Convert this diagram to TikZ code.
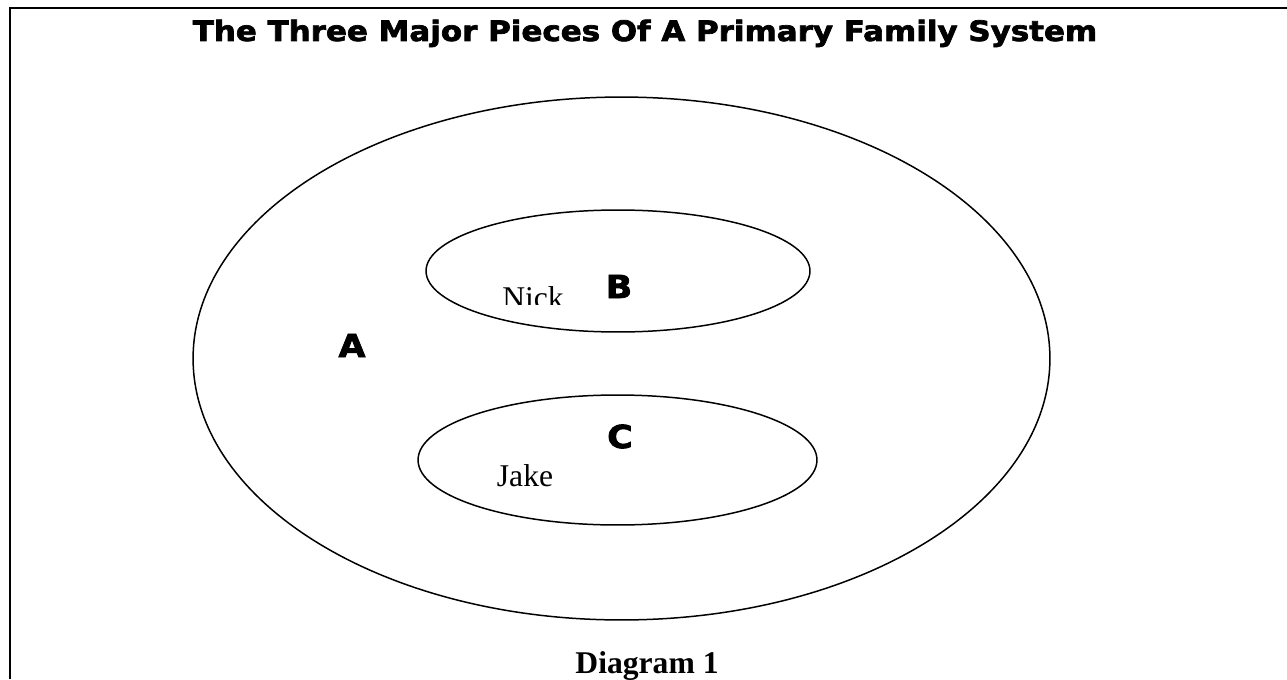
\documentclass[tikz,border=0pt]{standalone}
\usepackage{fontspec}
\setmainfont{Liberation Serif}
\newfontfamily\heavyfont{DejaVu Sans Bold}[FakeBold=2.5, FakeStretch=1.1]
\usepackage{tikz}
\usetikzlibrary{shapes}

\begin{document}
\begin{tikzpicture}[x=0.02cm, y=-0.02cm]%%family

                \tikzstyle{ring}  = [ellipse, draw, line width=0.85pt, inner sep=0pt]
                \tikzstyle{letter} = [font=\heavyfont\fontsize{18}{18}\selectfont, inner sep=0pt, anchor=base]
                \tikzstyle{person} = [font=\fontsize{18}{18}\selectfont, inner sep=0pt, anchor=base]
                \useasboundingbox (0,0) rectangle (1287,679);
                \draw [line width=1.4pt] (10,679) -- (10,8) -- (1287,8);
                \node [font=\heavyfont\fontsize{16}{16}\selectfont, inner sep=0pt, anchor=base](title) at (645,41) {The Three Major Pieces Of A Primary Family System};
                \node [ring, minimum width=17.14cm, minimum height=10.46cm](outer) at (621.5,358.5) {};
                \node [ring, minimum width=7.68cm, minimum height=2.44cm](upper) at (618,271) {};
                \node [ring, minimum width=7.98cm, minimum height=2.6cm](lower) at (617.5,460) {};
                \node [letter](A) at (352,357) {A};
                \node [letter](B) at (619,298) {B};
                \node [letter](C) at (620,448) {C};
                \begin{scope}
                        \clip (450,250) rectangle (700,304);
                        \node [person](nick) at (533,308) {Nick};
                \end{scope}
                \node [person](jake) at (525,486) {Jake};
                \node [person, font=\bfseries\fontsize{18}{18}\selectfont](caption) at (647,673) {Diagram 1};
\end{tikzpicture}
\end{document}
